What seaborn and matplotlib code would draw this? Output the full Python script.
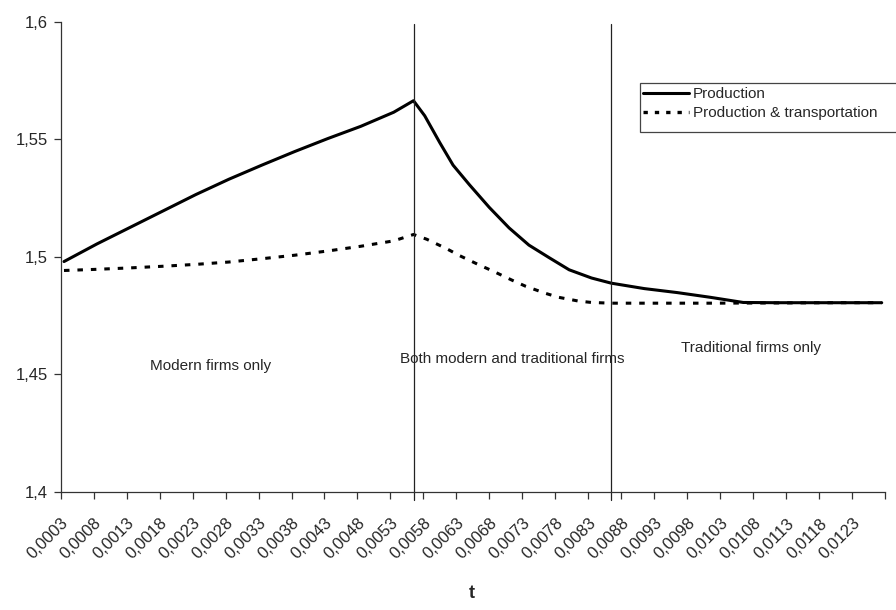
import matplotlib
matplotlib.use("Agg")
import matplotlib.pyplot as plt
import seaborn as sns
import pandas as pd
from matplotlib.ticker import FixedLocator, FixedFormatter
from matplotlib.lines import Line2D
from matplotlib.patches import Rectangle

# ---- data ----
t_prod = [0.0003, 0.0008, 0.0013, 0.0018, 0.0023, 0.0028, 0.0033, 0.0038, 0.0043,
          0.0048, 0.0053, 0.0056, 0.00577, 0.0060, 0.0062, 0.00645, 0.00675, 0.00705,
          0.00735, 0.00766, 0.00796, 0.0083, 0.0086, 0.0091, 0.0096, 0.0101,
          0.0106, 0.0111, 0.0116, 0.0121, 0.0127]
v_prod = [1.498, 1.5055, 1.5125, 1.5195, 1.5265, 1.533, 1.539, 1.5448, 1.5503,
          1.5555, 1.5615, 1.5664, 1.5600, 1.5485, 1.539, 1.5306, 1.521, 1.5123,
          1.505, 1.4996, 1.4945, 1.491, 1.4888, 1.4865, 1.4848, 1.4828,
          1.4806, 1.4805, 1.4805, 1.4805, 1.4805]

t_trans = [0.0003, 0.0008, 0.0013, 0.0018, 0.0023, 0.0028, 0.0033, 0.0038, 0.0043,
           0.0048, 0.0053, 0.0056, 0.0058, 0.0061, 0.0063, 0.0066, 0.0068, 0.0071,
           0.0073, 0.0076, 0.0078, 0.0081, 0.0083, 0.0086, 0.0091, 0.0101, 0.0111,
           0.0121, 0.0127]
v_trans = [1.4942, 1.4947, 1.4953, 1.496, 1.4968, 1.4978, 1.4992, 1.5007, 1.5025,
           1.5045, 1.5068, 1.5095, 1.5075, 1.5035, 1.5005, 1.4965, 1.494, 1.490,
           1.4875, 1.4845, 1.4828, 1.4812, 1.4806, 1.4803, 1.4803, 1.4803, 1.4804,
           1.4805, 1.4805]

series_names = ["Production", "Production & transportation"]
tick_labels = ["0,0003", "0,0008", "0,0013", "0,0018", "0,0023", "0,0028", "0,0033",
               "0,0038", "0,0043", "0,0048", "0,0053", "0,0058", "0,0063", "0,0068",
               "0,0073", "0,0078", "0,0083", "0,0088", "0,0093", "0,0098", "0,0103",
               "0,0108", "0,0113", "0,0118", "0,0123"]
y_ticks = [1.4, 1.45, 1.5, 1.55, 1.6]
y_tick_labels = ["1,4", "1,45", "1,5", "1,55", "1,6"]
regime_bounds = [0.0056, 0.0086]
region_texts = ["Modern firms only", "Both modern and traditional firms", "Traditional firms only"]

df = pd.concat([
    pd.DataFrame({"t": t_prod, "v": v_prod, "s": series_names[0]}),
    pd.DataFrame({"t": t_trans, "v": v_trans, "s": series_names[1]}),
])

# ---- plot ----
sns.set_style("white")
plt.rcParams["font.family"] = ["Liberation Sans", "DejaVu Sans"]

fig = plt.figure(figsize=(8.96, 6.10), dpi=100)
ax = fig.add_axes([60.7 / 896, 1 - 492 / 610, (885 - 60.7) / 896, (492 - 21.7) / 610])

sns.lineplot(data=df, x="t", y="v", hue="s", style="s",
             palette=["black", "black"],
             dashes={series_names[0]: "", series_names[1]: (1.8, 2.6)},
             linewidth=2.2, ax=ax, legend=False, sort=False)

ax.set_xlim(0.00025, 0.01275)
ax.set_ylim(1.4, 1.6)

# Excel-style category axis: tick marks between groups of 5 categories,
# each group's label anchored at its starting tick
n_ticks = len(tick_labels) + 1
ax.xaxis.set_major_locator(FixedLocator([0.00025 + 0.0005 * k for k in range(n_ticks)]))
ax.xaxis.set_major_formatter(FixedFormatter(tick_labels + [""]))
ax.tick_params(axis="x", which="major", bottom=True, direction="out", length=5,
               width=0.9, color="#333333", labelsize=12, pad=12)
for lab in ax.get_xticklabels():
    lab.set_rotation(45)
    lab.set_ha("right")
    lab.set_va("top")
    lab.set_rotation_mode("anchor")

ax.set_yticks(y_ticks)
ax.set_yticklabels(y_tick_labels)
ax.tick_params(axis="y", left=True, direction="out", length=5, width=0.9,
               color="#333333", labelsize=12, pad=4)

for s in ["top", "right"]:
    ax.spines[s].set_visible(False)
for s in ["left", "bottom"]:
    ax.spines[s].set_color("#333333")
    ax.spines[s].set_linewidth(0.9)

# regime boundaries
for xb in regime_bounds:
    ax.plot([xb, xb], [1.3966, 1.5989], color="#222222", lw=0.9, clip_on=False)

ax.text(0.0016, 1.4535, region_texts[0], fontsize=11, ha="left", va="center")
ax.text(0.00539, 1.4566, region_texts[1], fontsize=11, ha="left", va="center")
ax.text(0.00966, 1.4612, region_texts[2], fontsize=11, ha="left", va="center")

ax.set_xlabel("t", fontsize=13, fontweight="bold")
ax.xaxis.set_label_coords((472 - 60.7) / (885 - 60.7), -(585 - 492) / (492 - 21.7))
ax.set_ylabel("")

# legend box like the Excel one (runs off the right edge)
fig.add_artist(Rectangle((640 / 896, 1 - 132 / 610), 300 / 896, 49 / 610,
                         transform=fig.transFigure, facecolor="white",
                         edgecolor="#444444", linewidth=0.9))
handles = [Line2D([], [], color="black", lw=2.2),
           Line2D([], [], color="black", lw=2.4, linestyle=(0, (1.3, 2.1)))]
leg = fig.legend(handles, series_names, loc="upper left",
                 bbox_to_anchor=(640 / 896, 1 - 84 / 610), frameon=False,
                 fontsize=11, handlelength=3.0, handletextpad=0.25,
                 borderpad=0.2, labelspacing=0.35, borderaxespad=0)

fig.savefig("out.png", dpi=100)
